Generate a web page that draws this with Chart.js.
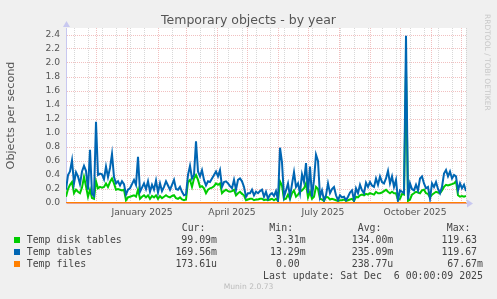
<!DOCTYPE html>
<html lang="en">
<head>
<meta charset="UTF-8">
<title>Temporary objects - by year</title>
<script src="https://cdn.jsdelivr.net/npm/chart.js@4/dist/chart.umd.min.js"></script>
<style>
    body { margin: 0; background: #f0f0f0; }
    #wrap { position: relative; width: 497px; height: 299px; overflow: hidden; background: #f0f0f0; }
    #chart { position: absolute; left: 0; top: 0; }
    .txt { position: absolute; white-space: pre; line-height: 12px; }
    .mono { font-family: 'DejaVu Sans Mono', monospace; font-size: 9.9px; color: #444; }
    .sq { position: absolute; width: 6px; height: 6px; }
    #title { left: 0; width: 497px; top: 12px; text-align: center; font-family: 'DejaVu Sans', sans-serif; font-size: 12.5px; color: #555; line-height: 15px; }
    #rrd { left: 483px; top: 14px; writing-mode: vertical-rl; font-family: 'DejaVu Sans', sans-serif; font-size: 7.5px; color: #c8c8c8; line-height: 8px; }
    #munin { left: 0; width: 497px; top: 282px; text-align: center; font-family: 'DejaVu Sans', sans-serif; font-size: 7.6px; color: #bbb; line-height: 10px; }
</style>
</head>
<body>
<div id="wrap">
    <canvas id="chart" width="497" height="299"></canvas>
    <div id="title" class="txt">Temporary objects - by year</div>
    <div id="rrd" class="txt">RRDTOOL / TOBI OETIKER</div>
    <div id="munin" class="txt">Munin 2.0.73</div>
    <div id="legend"></div>
</div>
<script>
// one point every 2 days, day 0 = 1 Nov 2024, day 400 = 6 Dec 2025
const DAY_STEP = 2;
const FILES_STEP = 20;

const seriesNames = ['Temp disk tables', 'Temp tables', 'Temp files'];
const seriesColors = ['#00cc00', '#0066b3', '#ff8000'];

const tempTables = [
    0.19, 0.40, 0.45, 0.61, 0.28, 0.44, 0.38, 0.27, 0.45, 0.53,
    0.46, 0.19, 0.76, 0.13, 0.10, 1.16, 0.40, 0.42, 0.41, 0.34,
    0.52, 0.37, 0.50, 0.70, 0.37, 0.28, 0.31, 0.25, 0.31, 0.27,
    0.12, 0.19, 0.21, 0.27, 0.33, 0.26, 0.66, 0.16, 0.22, 0.28,
    0.20, 0.31, 0.16, 0.26, 0.19, 0.32, 0.15, 0.28, 0.17, 0.23,
    0.31, 0.25, 0.19, 0.26, 0.33, 0.20, 0.19, 0.23, 0.16, 0.11,
    0.12, 0.40, 0.53, 0.35, 0.40, 0.88, 0.45, 0.38, 0.47, 0.33,
    0.25, 0.31, 0.30, 0.35, 0.40, 0.45, 0.38, 0.47, 0.23, 0.30,
    0.31, 0.28, 0.24, 0.21, 0.33, 0.19, 0.33, 0.35, 0.31, 0.23,
    0.09, 0.14, 0.14, 0.19, 0.11, 0.16, 0.14, 0.17, 0.19, 0.09,
    0.16, 0.06, 0.12, 0.14, 0.10, 0.17, 0.04, 0.79, 0.58, 0.09,
    0.18, 0.28, 0.09, 0.27, 0.44, 0.23, 0.28, 0.14, 0.41, 0.30,
    0.57, 0.14, 0.52, 0.09, 0.33, 0.69, 0.60, 0.09, 0.18, 0.04,
    0.11, 0.28, 0.14, 0.20, 0.23, 0.11, 0.04, 0.11, 0.08, 0.09,
    0.04, 0.09, 0.15, 0.18, 0.04, 0.21, 0.14, 0.26, 0.18, 0.14,
    0.29, 0.23, 0.30, 0.25, 0.23, 0.35, 0.26, 0.38, 0.30, 0.28,
    0.35, 0.46, 0.28, 0.38, 0.23, 0.33, 0.04, 0.18, 0.16, 0.14,
    2.39, 0.05, 0.28, 0.20, 0.18, 0.26, 0.18, 0.35, 0.38, 0.28,
    0.21, 0.23, 0.06, 0.28, 0.23, 0.30, 0.20, 0.14, 0.23, 0.42,
    0.47, 0.38, 0.45, 0.35, 0.40, 0.38, 0.18, 0.28, 0.21, 0.26,
    0.17
];

const tempDiskTables = [
    0.09, 0.20, 0.26, 0.30, 0.14, 0.19, 0.16, 0.14, 0.22, 0.37,
    0.24, 0.09, 0.19, 0.07, 0.06, 0.31, 0.21, 0.23, 0.22, 0.23,
    0.28, 0.23, 0.30, 0.35, 0.28, 0.19, 0.20, 0.19, 0.18, 0.19,
    0.04, 0.08, 0.09, 0.10, 0.11, 0.09, 0.19, 0.06, 0.09, 0.11,
    0.08, 0.11, 0.06, 0.10, 0.08, 0.11, 0.06, 0.10, 0.07, 0.09,
    0.11, 0.09, 0.08, 0.10, 0.11, 0.07, 0.06, 0.08, 0.05, 0.04,
    0.05, 0.30, 0.33, 0.23, 0.35, 0.40, 0.33, 0.23, 0.24, 0.21,
    0.14, 0.19, 0.21, 0.22, 0.24, 0.28, 0.26, 0.28, 0.14, 0.17,
    0.19, 0.17, 0.16, 0.17, 0.19, 0.11, 0.14, 0.16, 0.13, 0.11,
    0.04, 0.05, 0.06, 0.06, 0.04, 0.05, 0.05, 0.06, 0.06, 0.04,
    0.05, 0.04, 0.05, 0.06, 0.04, 0.06, 0.03, 0.31, 0.25, 0.05,
    0.06, 0.12, 0.06, 0.14, 0.18, 0.09, 0.12, 0.16, 0.18, 0.21,
    0.28, 0.08, 0.16, 0.06, 0.09, 0.23, 0.20, 0.06, 0.05, 0.03,
    0.09, 0.08, 0.05, 0.06, 0.05, 0.04, 0.03, 0.04, 0.04, 0.05,
    0.03, 0.04, 0.05, 0.06, 0.03, 0.09, 0.08, 0.11, 0.12, 0.11,
    0.13, 0.12, 0.14, 0.13, 0.12, 0.16, 0.14, 0.14, 0.15, 0.17,
    0.19, 0.16, 0.14, 0.16, 0.14, 0.14, 0.04, 0.06, 0.13, 0.12,
    1.90, 0.03, 0.05, 0.12, 0.14, 0.16, 0.15, 0.14, 0.18, 0.19,
    0.14, 0.13, 0.08, 0.12, 0.14, 0.16, 0.15, 0.14, 0.18, 0.23,
    0.26, 0.25, 0.26, 0.27, 0.28, 0.31, 0.11, 0.09, 0.10, 0.09,
    0.10
];

const tempFiles = [
    0, 0.0002, 0, 0.0003, 0, 0.0001, 0.0004, 0, 0.0002, 0,
    0.0003, 0.0001, 0, 0.0002, 0.0005, 0.0001, 0, 0.0003, 0.0002, 0.0001,
    0.0002
];

// x axis: month starts (major grid), quarter labels (mid month)
const monthStartDays = [30, 61, 92, 120, 151, 181, 212, 242, 273, 304, 334, 365, 395];
const tickLabels = ['January 2025', 'April 2025', 'July 2025', 'October 2025'];
const tickLabelDays = [76, 166, 257, 349];

const legendHeaders = ['Cur:', 'Min:', 'Avg:', 'Max:'];
const legendRows = [
    ['99.09m', '3.31m', '134.00m', '119.63 '],
    ['169.56m', '13.29m', '235.09m', '119.67 '],
    ['173.61u', '0.00 ', '238.77u', '67.67m']
];
const lastUpdate = 'Last update: Sat Dec  6 00:00:09 2025';

function toPoints(values, step) {
    return values.map((v, i) => ({ x: i * step, y: v }));
}

// minor grid every 14 days
const minorDays = [];
for (let d = 8; d <= 400; d += 14) minorDays.push(d);

const xTickValues = [...new Set([...minorDays, ...monthStartDays, ...tickLabelDays])].sort((a, b) => a - b);

const MINOR = 'rgba(190,190,190,0.6)';
const MAJOR = 'rgba(230,140,140,0.55)';

const bgPlugin = {
    id: 'bg',
    beforeDraw(chart) {
        const { ctx, chartArea: a } = chart;
        ctx.save();
        ctx.fillStyle = '#f0f0f0';
        ctx.fillRect(0, 0, chart.width, chart.height);
        ctx.fillStyle = '#ffffff';
        ctx.fillRect(a.left, a.top, a.right - a.left, a.bottom - a.top);
        ctx.restore();
    },
    afterDraw(chart) {
        const { ctx, chartArea: a } = chart;
        ctx.save();
        ctx.fillStyle = '#c8c8f0';
        ctx.beginPath();
        ctx.moveTo(a.left - 3, a.top - 1);
        ctx.lineTo(a.left + 0.5, a.top - 7);
        ctx.lineTo(a.left + 4, a.top - 1);
        ctx.fill();
        ctx.beginPath();
        ctx.moveTo(a.right + 1, a.bottom - 3.5);
        ctx.lineTo(a.right + 7, a.bottom + 0.5);
        ctx.lineTo(a.right + 1, a.bottom + 4.5);
        ctx.fill();
        ctx.restore();
    }
};

const FONT = { family: 'DejaVu Sans', size: 9.2 };

new Chart(document.getElementById('chart').getContext('2d'), {
    type: 'line',
    data: {
        datasets: [
            { label: seriesNames[2], data: toPoints(tempFiles, FILES_STEP), borderColor: seriesColors[2], order: 0 },
            { label: seriesNames[1], data: toPoints(tempTables, DAY_STEP), borderColor: seriesColors[1], order: 1 },
            { label: seriesNames[0], data: toPoints(tempDiskTables, DAY_STEP), borderColor: seriesColors[0], order: 2 }
        ]
    },
    options: {
        responsive: false,
        animation: false,
        devicePixelRatio: 1,
        events: [],
        layout: { padding: { top: 28, right: 31, bottom: 76, left: 0 } },
        elements: {
            point: { radius: 0 },
            line: { tension: 0, borderWidth: 2, fill: false }
        },
        plugins: { legend: { display: false }, tooltip: { enabled: false } },
        scales: {
            x: {
                type: 'linear',
                min: 0,
                max: 400,
                afterFit: s => { s.height = 20; },
                afterBuildTicks: s => { s.ticks = xTickValues.map(v => ({ value: v })); },
                grid: {
                    drawTicks: false,
                    color: c => {
                        const v = c.tick && c.tick.value;
                        if (tickLabelDays.includes(v)) return 'rgba(0,0,0,0)';
                        return monthStartDays.includes(v) ? MAJOR : MINOR;
                    }
                },
                border: { color: '#e8a090', dash: [1, 1] },
                ticks: {
                    autoSkip: false,
                    maxRotation: 0,
                    minRotation: 0,
                    padding: 4,
                    color: '#555',
                    font: FONT,
                    callback: v => {
                        const i = tickLabelDays.indexOf(v);
                        return i >= 0 ? tickLabels[i] : '';
                    }
                }
            },
            y: {
                min: 0,
                max: 2.5,
                afterFit: s => { s.width = 66; },
                grid: {
                    drawTicks: false,
                    color: c => {
                        const t = Math.round((c.tick ? c.tick.value : 0) * 10);
                        return t % 2 === 0 ? MAJOR : MINOR;
                    }
                },
                border: { color: '#c8c8f0', dash: [1, 1] },
                title: {
                    display: true,
                    text: 'Objects per second',
                    color: '#555',
                    font: { family: 'DejaVu Sans', size: 11.2 },
                    padding: { top: 4, bottom: 0 }
                },
                ticks: {
                    stepSize: 0.1,
                    padding: 6,
                    color: '#555',
                    font: FONT,
                    callback: v => {
                        const t = Math.round(v * 10);
                        return t % 2 === 0 ? (t / 10).toFixed(1) : '';
                    }
                }
            }
        }
    },
    plugins: [bgPlugin]
});

// legend block under the chart
const legend = document.getElementById('legend');
function addText(text, y, opts) {
    const el = document.createElement('div');
    el.className = 'txt mono';
    el.textContent = text;
    el.style.top = (y - 6) + 'px';
    if (opts.right !== undefined) {
        el.style.right = (497 - opts.right) + 'px';
        el.style.textAlign = 'right';
    } else {
        el.style.left = opts.left + 'px';
    }
    legend.appendChild(el);
}

const headerLefts = [181.7, 269.3, 357.7, 446.7];
const valueRights = [217, 305.7, 393.3, 483];
const rowY = [239.7, 251.7, 263.7];

legendHeaders.forEach((h, i) => addText(h, 227.7, { left: headerLefts[i] }));
seriesNames.forEach((name, r) => {
    const sq = document.createElement('div');
    sq.className = 'sq';
    sq.style.left = '14px';
    sq.style.top = (rowY[r] - 3) + 'px';
    sq.style.background = seriesColors[r];
    legend.appendChild(sq);
    addText(name, rowY[r], { left: 26.7 });
    legendRows[r].forEach((v, c) => addText(v, rowY[r], { right: valueRights[c] }));
});
addText(lastUpdate, 275.7, { right: 483 });
</script>
</body>
</html>
